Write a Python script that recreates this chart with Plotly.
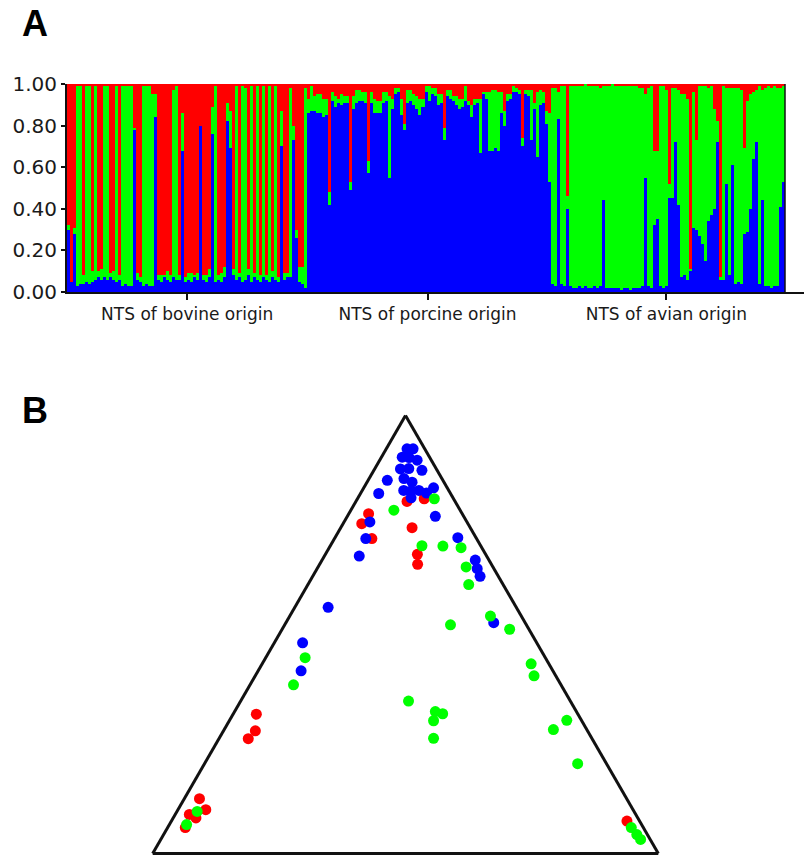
import plotly.graph_objects as go

# ---------------- Panel A data: STRUCTURE membership (percent) ----------------
group_labels = ["NTS of bovine origin", "NTS of porcine origin", "NTS of avian origin"]

bovine_blue = [30, 5, 28, 3, 4, 4, 5, 4, 5, 6,
               7, 6, 7, 6, 7, 6, 5, 6, 3, 4,
               3, 3, 78, 6, 5, 3, 4, 3, 3, 84,
               6, 5, 7, 6, 5, 7, 6, 6, 68, 5,
               6, 5, 7, 6, 80, 6, 5, 7, 76, 5,
               6, 5, 7, 82, 69, 8, 6, 7, 5, 6,
               8, 5, 7, 6, 5, 7, 6, 5, 7, 6,
               5, 70, 6, 7, 7, 73, 26, 5, 4, 2]
bovine_green = [2, 0, 3, 96, 95, 4, 94, 95, 5, 93,
                3, 5, 92, 93, 2, 4, 94, 2, 96, 95,
                96, 96, 1, 3, 2, 96, 95, 96, 92, 11,
                2, 3, 1, 4, 3, 90, 93, 2, 18, 2,
                3, 4, 1, 3, 0, 2, 3, 4, 13, 94,
                2, 4, 5, 9, 18, 3, 93, 2, 94, 92,
                3, 94, 2, 93, 3, 92, 2, 94, 3, 93,
                2, 17, 3, 2, 91, 7, 4, 7, 8, 96]

porcine_blue = [86, 87, 87, 86, 86, 84, 85, 42, 92, 89,
                91, 90, 91, 91, 49, 88, 91, 92, 92, 91,
                57, 91, 86, 86, 86, 91, 92, 55, 88, 95,
                96, 85, 78, 91, 92, 90, 88, 85, 89, 96,
                92, 95, 94, 90, 91, 73, 94, 93, 92, 90,
                88, 89, 92, 90, 84, 90, 91, 67, 95, 93,
                68, 68, 69, 68, 86, 80, 92, 93, 96, 96,
                95, 70, 95, 94, 73, 88, 65, 90, 91, 81]
porcine_green = [7, 12, 7, 9, 9, 9, 8, 6, 4, 5,
                 2, 5, 3, 3, 4, 6, 6, 5, 4, 5,
                 6, 5, 7, 6, 6, 5, 4, 39, 5, 3,
                 2, 8, 3, 6, 5, 5, 6, 8, 4, 3,
                 7, 3, 4, 5, 4, 6, 3, 4, 2, 4,
                 5, 4, 7, 2, 6, 3, 2, 26, 1, 3,
                 28, 29, 28, 28, 10, 7, 3, 2, 3, 2,
                 2, 4, 2, 3, 24, 3, 31, 7, 5, 6]

avian_blue = [53, 4, 3, 83, 4, 3, 40, 3, 2, 2,
              3, 2, 3, 2, 2, 3, 2, 3, 44, 2,
              2, 2, 2, 2, 1, 2, 2, 1, 2, 2,
              2, 3, 55, 3, 2, 32, 35, 3, 2, 3,
              45, 45, 72, 42, 7, 8, 6, 10, 31, 30,
              27, 23, 15, 34, 37, 40, 72, 6, 6, 52,
              8, 61, 4, 5, 4, 28, 29, 40, 64, 72,
              4, 44, 3, 3, 2, 3, 3, 41, 53]
avian_green = [33, 94, 95, 13, 95, 96, 6, 96, 97, 97,
               96, 97, 97, 97, 97, 96, 97, 95, 55, 97,
               97, 98, 97, 97, 98, 97, 97, 98, 97, 97,
               96, 95, 40, 95, 97, 36, 33, 96, 97, 94,
               7, 53, 26, 55, 88, 87, 87, 1, 65, 43,
               72, 76, 84, 64, 62, 48, 10, 1, 93, 46,
               90, 37, 94, 93, 93, 41, 63, 55, 32, 25,
               95, 53, 95, 96, 96, 96, 95, 57, 46]

# ---------------- Panel B data: ternary memberships (porcine, bovine, avian) ----------------
bov_q_porcine = [.804, .810, .776, .753, .719, .744, .683, .661, .318, .280, .262, .125, .100, .089, .081, .059, .074]
bov_q_bovine = [.095, .058, .185, .210, .207, .115, .135, .146, .636, .657, .680, .845, .845, .883, .874, .907, .025]
bov_q_avian = [.101, .132, .039, .037, .074, .141, .182, .194, .046, .063, .058, .030, .055, .028, .045, .035, .901]

por_q_porcine = [.924, .924, .905, .904, .898, .879, .879, .875, .856, .848, .829, .828, .829, .823, .835,
                 .813, .852, .822, .770, .757, .719, .679, .721, .670, .651, .633, .562, .527, .481, .417]
por_q_bovine = [.035, .023, .054, .041, .028, .071, .054, .030, .075, .063, .089, .075, .059, .047, .027,
                .083, .110, .142, .056, .192, .219, .252, .036, .027, .033, .036, .372, .062, .463, .498]
por_q_avian = [.041, .053, .041, .055, .074, .051, .067, .095, .069, .089, .082, .097, .112, .130, .138,
               .105, .038, .036, .174, .051, .062, .069, .243, .303, .317, .331, .066, .411, .056, .085]

avi_q_porcine = [.784, .810, .702, .702, .699, .655, .614, .542, .522, .512, .433, .406, .447, .385,
                 .348, .324, .319, .303, .263, .304, .283, .205, .096, .066, .059, .043, .032]
avi_q_bovine = [.131, .038, .116, .075, .041, .053, .068, .061, .150, .038, .035, .043, .475, .529,
                .320, .279, .267, .293, .313, .029, .066, .057, .864, .900, .024, .021, .019]
avi_q_avian = [.085, .152, .181, .223, .261, .293, .318, .397, .328, .450, .532, .552, .078, .086,
               .332, .397, .414, .404, .424, .667, .651, .738, .040, .034, .918, .936, .949]

RED, GREEN, BLUE = "#ff0000", "#00ff00", "#0000ff"
W, H = 804, 856

blue_all = bovine_blue + porcine_blue + avian_blue
green_all = bovine_green + porcine_green + avian_green
red_all = [100 - b - g for b, g in zip(blue_all, green_all)]
n = len(blue_all)
xs = list(range(n))
sizes = [len(bovine_blue), len(porcine_blue), len(avian_blue)]
starts = [0, sizes[0], sizes[0] + sizes[1]]
centers = [s + (k - 1) / 2 for s, k in zip(starts, sizes)]

fig = go.Figure()
for vals, col in [(blue_all, BLUE), (green_all, GREEN), (red_all, RED)]:
    fig.add_trace(go.Bar(x=xs, y=[v / 100 for v in vals], width=1.0,
                         marker=dict(color=col, line=dict(width=0)),
                         showlegend=False, hoverinfo="skip", xaxis="x", yaxis="y"))

# plot geometry (pixels)
x_left, x_bars_end, x_axis_end = 67, 785, 804
y_top, y_bot = 84, 292
px_per_bar = (x_bars_end - x_left) / n
x_max = -0.5 + (x_axis_end - x_left) / px_per_bar

for qa, qb, qc, col in [(bov_q_porcine, bov_q_bovine, bov_q_avian, RED),
                        (por_q_porcine, por_q_bovine, por_q_avian, BLUE),
                        (avi_q_porcine, avi_q_bovine, avi_q_avian, GREEN)]:
    fig.add_trace(go.Scatterternary(a=qa, b=qb, c=qc, mode="markers", cliponaxis=False,
                                    marker=dict(color=col, size=11, line=dict(width=0)),
                                    showlegend=False, hoverinfo="skip", subplot="ternary"))

tern_axis = dict(showline=True, linecolor="#111111", linewidth=3, showgrid=False,
                 showticklabels=False, ticks="", title=dict(text=""))

fig.update_layout(
    width=W, height=H, margin=dict(l=0, r=0, t=0, b=0, pad=0, autoexpand=False),
    paper_bgcolor="white", plot_bgcolor="white",
    barmode="stack", bargap=0,
    font=dict(family="DejaVu Sans", color="#1a1a1a"),
    xaxis=dict(domain=[x_left / W, x_axis_end / W], range=[-0.5, x_max], automargin=False,
               showline=True, linecolor="#111111", linewidth=2, showgrid=False, zeroline=False,
               tickmode="array", tickvals=centers, ticktext=group_labels,
               ticks="outside", ticklen=6, tickwidth=1.5, tickcolor="#111111",
               tickfont=dict(size=17, family="DejaVu Sans", color="#1a1a1a"), fixedrange=True),
    yaxis=dict(domain=[1 - y_bot / H, 1 - y_top / H], range=[0, 1], automargin=False,
               showline=True, linecolor="#111111", linewidth=2, showgrid=False, zeroline=False,
               tickmode="array", tickvals=[0, 0.2, 0.4, 0.6, 0.8, 1.0],
               ticktext=["0.00", "0.20", "0.40", "0.60", "0.80", "1.00"],
               ticks="outside", ticklen=4, tickwidth=1.5, tickcolor="#111111",
               tickfont=dict(size=20, family="DejaVu Sans", color="#1a1a1a"), fixedrange=True),
    ternary=dict(domain=dict(x=[152.7 / W, 658.3 / W], y=[2 / H, 441 / H]),
                 sum=1, bgcolor="white",
                 aaxis=tern_axis, baxis=tern_axis, caxis=tern_axis),
    shapes=[dict(type="line", xref="x", yref="y", x0=n - 0.5, x1=n - 0.5, y0=0, y1=1,
                 line=dict(color="#111111", width=1.5))],
    annotations=[
        dict(text="<b>A</b>", x=20 / W, y=1 - 23 / H, xref="paper", yref="paper",
             xanchor="left", yanchor="middle", showarrow=False,
             font=dict(family="Liberation Sans", size=36, color="#000000")),
        dict(text="<b>B</b>", x=20 / W, y=1 - 410 / H, xref="paper", yref="paper",
             xanchor="left", yanchor="middle", showarrow=False,
             font=dict(family="Liberation Sans", size=36, color="#000000")),
    ],
)

fig.write_html("out.html", config={"displayModeBar": False},
               post_script="document.body.style.margin='0';")
